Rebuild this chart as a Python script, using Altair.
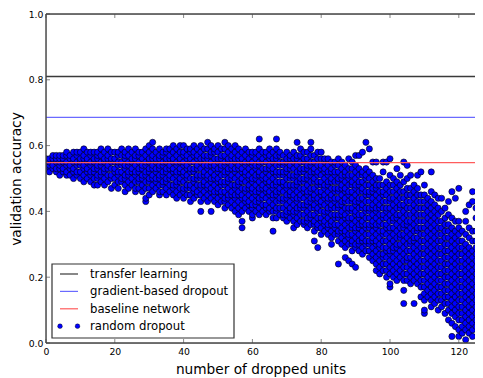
import altair as alt
import pandas as pd

# ---------------- data ----------------
# random dropout: validation accuracy (in %) for each number of dropped units 0..127
acc_000_019 = [
    [53, 54, 55, 56], [52, 54, 55, 56], [53, 54, 56, 57], [52, 53, 55, 56, 57],
    [51, 53, 54, 55, 56, 57], [52, 53, 55, 56, 57], [51, 52, 54, 55, 57, 58],
    [51, 53, 54, 56, 57], [50, 52, 53, 55, 56, 58], [51, 52, 54, 55, 57, 58],
    [50, 52, 54, 55, 56, 58], [49, 51, 53, 54, 56, 57, 59], [50, 52, 53, 55, 56, 58],
    [49, 51, 52, 54, 55, 57, 58], [48, 50, 52, 53, 55, 56, 58],
    [48, 50, 51, 53, 54, 56, 57, 58], [49, 51, 52, 54, 55, 57, 59],
    [48, 50, 52, 53, 55, 56, 58], [49, 51, 53, 54, 56, 57, 59], [47, 50, 51, 53, 55, 56, 58],
]
acc_020_039 = [
    [48, 50, 52, 53, 55, 56, 58], [47, 49, 51, 52, 54, 55, 57, 58], [49, 50, 52, 54, 55, 57, 59],
    [46, 48, 50, 51, 53, 54, 56, 57, 58], [47, 49, 51, 52, 54, 55, 57, 59],
    [48, 50, 52, 53, 55, 56, 58], [46, 47, 49, 51, 52, 54, 56, 57, 59],
    [47, 49, 50, 52, 53, 55, 57, 58], [46, 48, 50, 51, 53, 54, 56, 58],
    [43, 44, 47, 49, 51, 52, 54, 55, 57, 59],
    [45, 47, 49, 50, 52, 53, 55, 56, 58, 60], [46, 48, 50, 51, 53, 54, 56, 57, 59, 61],
    [47, 49, 50, 52, 53, 55, 56, 58], [45, 46, 48, 50, 51, 53, 54, 56, 57, 59],
    [46, 48, 49, 51, 52, 54, 55, 57, 58], [45, 47, 49, 50, 52, 53, 55, 56, 58, 59],
    [46, 48, 50, 51, 53, 54, 56, 57, 59], [45, 47, 48, 50, 52, 53, 55, 56, 58, 60],
    [44, 46, 48, 49, 51, 52, 54, 55, 57, 59], [45, 47, 49, 50, 52, 53, 55, 56, 58, 60],
]
acc_040_059 = [
    [44, 46, 47, 49, 51, 52, 54, 55, 57, 58, 60], [45, 47, 48, 50, 51, 53, 54, 56, 57, 59],
    [43, 45, 47, 48, 50, 52, 53, 55, 56, 58, 59], [44, 46, 47, 49, 50, 52, 53, 55, 57, 58, 60],
    [45, 46, 48, 50, 51, 53, 54, 56, 57, 59], [40, 43, 45, 47, 48, 50, 51, 53, 55, 56, 58, 60],
    [44, 46, 48, 49, 51, 52, 54, 56, 57, 59], [43, 45, 47, 48, 50, 51, 53, 54, 56, 57, 59, 61],
    [40, 44, 46, 47, 49, 50, 52, 54, 55, 57, 58, 60], [43, 45, 46, 48, 50, 51, 53, 54, 56, 58, 59],
    [42, 44, 46, 47, 49, 50, 52, 53, 55, 56, 58, 60], [43, 45, 46, 48, 49, 51, 53, 54, 56, 57, 59],
    [41, 43, 44, 46, 48, 49, 51, 52, 54, 55, 57, 59, 61], [42, 44, 45, 47, 49, 50, 52, 53, 55, 56, 58, 60],
    [41, 43, 45, 46, 48, 50, 51, 53, 54, 56, 57, 59], [40, 42, 44, 45, 47, 48, 50, 52, 53, 55, 56, 58, 60],
    [39, 41, 43, 45, 46, 48, 49, 51, 53, 54, 56, 57, 59],
    [35, 37, 40, 42, 44, 45, 47, 49, 50, 52, 53, 55, 56, 58],
    [41, 43, 44, 46, 47, 49, 51, 52, 54, 55, 57, 59], [40, 42, 43, 45, 47, 48, 50, 51, 53, 55, 56, 58],
]
acc_060_079 = [
    [38, 39, 41, 42, 44, 46, 47, 49, 50, 52, 54, 55, 57, 58], [40, 42, 43, 45, 46, 48, 50, 51, 53, 54, 56, 58],
    [39, 41, 43, 44, 46, 47, 49, 51, 52, 54, 55, 57, 59, 62], [40, 42, 44, 45, 47, 48, 50, 51, 53, 55, 56, 58],
    [39, 41, 42, 44, 46, 47, 49, 50, 52, 53, 55, 57, 58], [40, 41, 43, 45, 46, 48, 49, 51, 53, 54, 56, 57, 59],
    [34, 38, 40, 42, 44, 45, 47, 48, 50, 52, 53, 55, 56, 58],
    [38, 40, 41, 43, 45, 46, 48, 49, 51, 52, 54, 56, 57, 59, 62],
    [39, 41, 43, 44, 46, 47, 49, 51, 52, 54, 55, 57, 58], [38, 39, 41, 43, 44, 46, 48, 49, 51, 52, 54, 55, 57],
    [37, 39, 40, 42, 44, 45, 47, 48, 50, 52, 53, 55, 56, 58], [38, 40, 41, 43, 45, 46, 48, 50, 51, 53, 54, 56, 57],
    [35, 37, 39, 40, 42, 44, 45, 47, 48, 50, 51, 53, 55, 56, 58],
    [36, 38, 40, 41, 43, 44, 46, 48, 49, 51, 52, 54, 56, 57, 61],
    [37, 39, 41, 42, 44, 45, 47, 49, 50, 52, 53, 55, 57, 59],
    [36, 37, 39, 41, 42, 44, 46, 47, 49, 50, 52, 53, 55, 56, 58],
    [35, 37, 38, 40, 42, 43, 45, 46, 48, 50, 51, 53, 54, 56, 58],
    [36, 38, 39, 41, 43, 44, 46, 47, 49, 51, 52, 54, 55, 57, 59, 61],
    [31, 34, 36, 37, 39, 41, 42, 44, 45, 47, 49, 50, 52, 53, 55, 57],
    [29, 35, 36, 38, 40, 41, 43, 44, 46, 48, 49, 51, 52, 54, 56, 58],
]
acc_080_099 = [
    [33, 35, 37, 38, 40, 42, 43, 45, 46, 48, 49, 51, 53, 54, 56, 58],
    [34, 36, 37, 39, 40, 42, 44, 45, 47, 48, 50, 52, 53, 55, 56],
    [33, 35, 36, 38, 40, 41, 43, 44, 46, 48, 49, 51, 52, 54, 56],
    [30, 32, 34, 36, 37, 39, 41, 42, 44, 45, 47, 49, 50, 52, 53, 55],
    [33, 35, 36, 38, 39, 41, 43, 44, 46, 47, 49, 51, 52, 54, 55],
    [24, 31, 33, 34, 36, 38, 39, 41, 42, 44, 46, 47, 49, 50, 52, 54, 56],
    [30, 32, 34, 35, 37, 39, 40, 42, 43, 45, 47, 48, 50, 51, 53, 55],
    [26, 29, 31, 33, 34, 36, 38, 39, 41, 43, 44, 46, 47, 49, 51, 52, 54],
    [25, 30, 32, 33, 35, 37, 38, 40, 41, 43, 45, 46, 48, 50, 51, 53, 56],
    [24, 28, 30, 31, 33, 35, 36, 38, 40, 41, 43, 44, 46, 48, 49, 51, 53, 55],
    [23, 29, 30, 32, 34, 35, 37, 39, 40, 42, 43, 45, 47, 48, 50, 52, 54, 57],
    [28, 30, 31, 33, 35, 36, 38, 39, 41, 43, 44, 46, 48, 49, 51, 53, 57],
    [27, 29, 31, 32, 34, 36, 37, 39, 41, 42, 44, 46, 47, 49, 51, 52, 58],
    [28, 30, 31, 33, 35, 36, 38, 40, 41, 43, 45, 46, 48, 50, 51, 53, 61],
    [26, 28, 30, 31, 33, 35, 36, 38, 40, 41, 43, 45, 46, 48, 50, 52, 59],
    [25, 27, 29, 31, 32, 34, 36, 37, 39, 41, 42, 44, 46, 47, 49, 51, 55],
    [22, 24, 26, 28, 30, 31, 33, 35, 36, 38, 40, 41, 43, 45, 47, 48, 50, 55],
    [21, 23, 25, 27, 29, 30, 32, 34, 36, 37, 39, 41, 42, 44, 46, 48, 50],
    [22, 24, 26, 27, 29, 31, 33, 34, 36, 38, 39, 41, 43, 45, 46, 48, 52, 55],
    [20, 22, 24, 26, 28, 29, 31, 33, 35, 36, 38, 40, 41, 43, 45, 47, 49, 55],
]
acc_100_119 = [
    [17, 18, 21, 23, 25, 27, 28, 30, 32, 34, 35, 37, 39, 41, 43, 44, 46, 48, 51, 56],
    [20, 22, 24, 26, 28, 29, 31, 33, 35, 37, 38, 40, 42, 44, 46, 48, 50],
    [19, 21, 23, 25, 27, 29, 30, 32, 34, 36, 38, 39, 41, 43, 45, 47, 49, 53],
    [20, 22, 24, 26, 28, 30, 32, 33, 35, 37, 39, 41, 42, 44, 46, 48, 51],
    [12, 16, 19, 21, 23, 25, 27, 29, 31, 33, 35, 36, 38, 40, 42, 44, 46, 49, 55],
    [19, 21, 23, 25, 26, 28, 30, 32, 34, 36, 37, 39, 41, 43, 45, 47, 50, 54],
    [18, 20, 22, 24, 26, 28, 30, 31, 33, 35, 37, 39, 41, 43, 45, 47, 51],
    [12, 19, 21, 23, 25, 27, 29, 31, 32, 34, 36, 38, 40, 42, 44, 46, 48],
    [18, 20, 22, 24, 26, 28, 30, 32, 34, 35, 37, 39, 41, 43, 45, 47, 51],
    [14, 17, 19, 21, 23, 25, 27, 29, 31, 33, 35, 37, 39, 41, 43, 45, 52],
    [9, 10, 13, 15, 17, 19, 21, 23, 25, 27, 29, 31, 33, 35, 37, 39, 41, 43, 45, 48],
    [14, 16, 18, 20, 22, 24, 26, 28, 30, 32, 34, 36, 38, 40, 42, 44],
    [11, 13, 15, 17, 19, 21, 23, 25, 27, 29, 31, 33, 35, 37, 39, 41, 43, 46, 52],
    [12, 14, 16, 18, 20, 22, 24, 26, 28, 30, 32, 34, 36, 38, 40, 42, 45],
    [10, 13, 15, 17, 19, 21, 23, 25, 27, 29, 31, 33, 35, 37, 39, 41, 44],
    [11, 13, 15, 17, 19, 21, 23, 25, 27, 29, 31, 33, 35, 37, 40, 44],
    [9, 12, 14, 16, 18, 20, 22, 24, 26, 28, 30, 32, 34, 36, 38, 41],
    [7, 10, 12, 14, 16, 18, 20, 22, 24, 26, 28, 30, 32, 34, 36, 39, 43],
    [2, 6, 9, 11, 13, 15, 17, 19, 21, 23, 25, 27, 29, 31, 33, 35, 38, 46],
    [5, 8, 10, 12, 14, 16, 18, 20, 22, 24, 26, 28, 30, 32, 34, 37, 44],
]
acc_120_127 = [
    [2, 4, 7, 9, 11, 13, 15, 17, 19, 21, 23, 25, 27, 29, 31, 33, 35, 37, 47],
    [3, 5, 7, 9, 11, 13, 15, 17, 19, 21, 23, 25, 27, 29, 31, 34],
    [1, 4, 6, 8, 10, 12, 14, 16, 18, 20, 22, 24, 26, 28, 30, 33, 37, 40],
    [3, 5, 7, 9, 11, 13, 15, 17, 19, 21, 23, 25, 27, 29, 32, 35, 42],
    [2, 4, 6, 8, 10, 12, 14, 16, 18, 20, 22, 24, 26, 28, 31, 34, 43, 46],
    [5, 7, 9, 11, 13, 15, 17, 19, 21, 23, 25, 27, 29, 31, 34, 38, 41],
    [4, 6, 8, 10, 12, 14, 16, 18, 20, 22, 24, 26, 28, 30, 33, 36, 43],
    [3, 5, 7, 9, 11, 13, 15, 17, 19, 21, 23, 25, 27, 29, 32, 35, 40],
]

ref_names = ["transfer learning", "gradient-based dropout", "baseline network"]
ref_values = [0.81, 0.686, 0.548]
ref_colors = ["#3a3a3a", "#6a6aff", "#ff5c5c"]
scatter_name = "random dropout"

x_ticks = [0, 20, 40, 60, 80, 100, 120]
y_ticks = [0.0, 0.2, 0.4, 0.6, 0.8, 1.0]

# ---------------- build tables ----------------
columns = acc_000_019 + acc_020_039 + acc_040_059 + acc_060_079 + acc_080_099 + acc_100_119 + acc_120_127
rows = []
for units, ys in enumerate(columns):
    for v in ys:
        rows.append({"x": units, "y": v / 100.0})
pts = pd.DataFrame(rows)
refs = pd.DataFrame({"name": ref_names, "y": ref_values, "color": ref_colors})
xt = pd.DataFrame({"x": x_ticks})
yt = pd.DataFrame({"y": y_ticks})

PX_PER_UNIT = 3.44
W, H = 429, 329
FONT = "DejaVu Sans"

xscale = alt.Scale(domain=[0, W / PX_PER_UNIT], nice=False, zero=False)
yscale = alt.Scale(domain=[0, 1], nice=False)
xaxis = alt.Axis(values=x_ticks, title="number of dropped units", format="d", grid=False,
                 ticks=False, tickSize=0, domain=False, labelPadding=4, labelFontSize=9.3,
                 labelColor="#000", labelFont=FONT, titleFont=FONT, titleFontSize=13.7,
                 titleFontWeight="normal", titleColor="#000", titlePadding=6, labelFlush=False)
yaxis = alt.Axis(values=y_ticks, title="validation accuracy", format=".1f", grid=False,
                 ticks=False, tickSize=0, domain=False, labelPadding=3, labelFontSize=9.3,
                 labelColor="#000", labelFont=FONT, titleFont=FONT, titleFontSize=13.7,
                 titleFontWeight="normal", titleColor="#000", titlePadding=5)


def X(f):
    return alt.X(f, type="quantitative", scale=xscale, axis=xaxis)


def Y(f):
    return alt.Y(f, type="quantitative", scale=yscale, axis=yaxis)


scatter = alt.Chart(pts).mark_point(
    shape="circle", filled=True, size=38, fill="#0000ff", stroke="#000000",
    strokeWidth=0.6, opacity=1, clip=True
).encode(x=X("x"), y=Y("y"))

hlines = alt.Chart(refs).mark_rule(strokeWidth=1.3, opacity=1).encode(
    y=Y("y"), color=alt.Color("color:N", scale=None)
)

tick_col = "#888888"
xt_bot = alt.Chart(xt).mark_rule(color=tick_col, strokeWidth=1).encode(
    x=X("x"), y=alt.value(H), y2=alt.value(H - 4))
xt_top = alt.Chart(xt).mark_rule(color=tick_col, strokeWidth=1).encode(
    x=X("x"), y=alt.value(0), y2=alt.value(4))
yt_left = alt.Chart(yt).mark_rule(color=tick_col, strokeWidth=1).encode(
    y=Y("y"), x=alt.value(0), x2=alt.value(4))

# ---------------- frame (left, bottom, top spines; right side is cut off) ----------------
one = pd.DataFrame({"k": [0]})
spine_col = "#444444"
spines = [
    alt.Chart(one).mark_rule(color=spine_col, strokeWidth=1.4).encode(
        x=alt.value(0), y=alt.value(0), y2=alt.value(H)),
    alt.Chart(one).mark_rule(color=spine_col, strokeWidth=1.4).encode(
        x=alt.value(0), x2=alt.value(W), y=alt.value(H)),
    alt.Chart(one).mark_rule(color=spine_col, strokeWidth=1.4).encode(
        x=alt.value(0), x2=alt.value(W), y=alt.value(0)),
]

# ---------------- legend ----------------
LX0, LX1, LY0, LY1 = 6, 188, 250, 324
row_y0, row_dy = 260, 17.4
legend_layers = [
    alt.Chart(one).mark_rect(fill="white", stroke="#333333", strokeWidth=1.2).encode(
        x=alt.value(LX0), x2=alt.value(LX1), y=alt.value(LY0), y2=alt.value(LY1))
]
for i, (nm, col) in enumerate(zip(ref_names, ref_colors)):
    ry = row_y0 + i * row_dy
    legend_layers.append(
        alt.Chart(one).mark_rule(color=col, strokeWidth=1.2).encode(
            x=alt.value(14), x2=alt.value(32), y=alt.value(ry)))
    legend_layers.append(
        alt.Chart(one).mark_text(text=nm, align="left", baseline="middle", font=FONT,
                                 fontSize=11.7, color="#000").encode(
            x=alt.value(44), y=alt.value(ry)))
ry = row_y0 + 3 * row_dy
for dx in (14, 31.5):
    legend_layers.append(
        alt.Chart(one).mark_point(shape="circle", filled=True, size=22, fill="#0000ff",
                                  stroke="#000", strokeWidth=0.4, opacity=1).encode(
            x=alt.value(dx), y=alt.value(ry)))
legend_layers.append(
    alt.Chart(one).mark_text(text=scatter_name, align="left", baseline="middle", font=FONT,
                             fontSize=11.7, color="#000").encode(
        x=alt.value(44), y=alt.value(ry)))

chart = alt.layer(scatter, hlines, xt_bot, xt_top, yt_left, *spines, *legend_layers).properties(
    width=W, height=H,
    padding={"left": 38, "top": 6, "right": 0, "bottom": 34},
    autosize=alt.AutoSizeParams(type="none"),
).configure_view(strokeWidth=0).configure(background="white")

chart.save("out.html", embed_options={"renderer": "svg", "actions": False})
